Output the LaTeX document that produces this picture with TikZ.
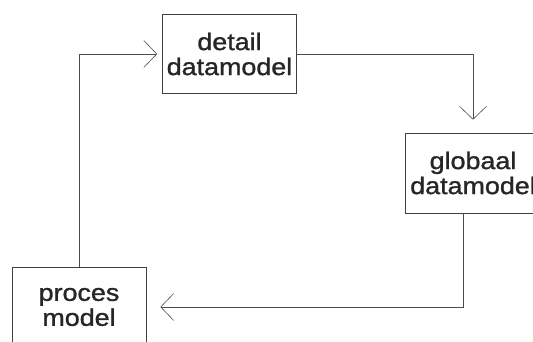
\documentclass[tikz,border=0pt]{standalone}
\usepackage{fontspec}
\setmainfont{Liberation Sans}[FakeStretch=1.12, FakeBold=1.2]
\usetikzlibrary{arrows.meta}
\tikzset{
        model/.style={draw=black!75, line width=0.6pt, minimum width=134pt, minimum height=79pt, align=center, inner sep=0pt, font=\fontsize{24}{25}\selectfont, text=black!85},
        flow/.style={draw=black!70, line width=0.6pt, -{Straight Barb[length=13pt, width=27pt, line width=0.6pt]}}
          }
\begin{document}
\begin{tikzpicture}[x=1pt, y=-1pt]
        \useasboundingbox (0,0) rectangle (533,342);
        \clip (0,0) rectangle (533,342);
        \node[model] (detail) at (229.5,54) {detail\\datamodel};
        \node[model, minimum width=136pt, minimum height=80pt] (globaal) at (473,173) {globaal\\datamodel};
        \node[model, minimum height=80pt] (proces) at (79,307) {proces\\model};
        \draw[flow, shorten >=13pt] (detail.east) -| (globaal.north);
        \draw[flow, shorten >=14pt] ([xshift=-10pt]globaal.south) |- (proces.east);
        \draw[flow, shorten >=5pt] (proces.north) |- (detail.west);
      \end{tikzpicture}
\end{document}
